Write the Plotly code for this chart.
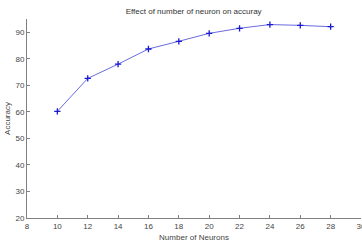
import plotly.graph_objects as go

neurons = [10, 12, 14, 16, 18, 20, 22, 24, 26, 28]
accuracy = [60.2, 72.6, 78.0, 83.7, 86.6, 89.6, 91.5, 92.9, 92.6, 92.1]
x_ticks = [8, 10, 12, 14, 16, 18, 20, 22, 24, 26, 28, 30]
y_ticks = [20, 30, 40, 50, 60, 70, 80, 90]

fig = go.Figure()
fig.add_trace(go.Scatter(
    x=neurons, y=accuracy, mode="lines+markers",
    line=dict(color="#6a6ae0", width=1),
    marker=dict(symbol="cross-thin", size=4.5, color="#1a1ad0",
                line=dict(color="#1a1ad0", width=1.3)),
    showlegend=False, cliponaxis=False,
))

axis_common = dict(
    showline=True, linecolor="#808080", linewidth=1,
    ticks="inside", ticklen=3, tickcolor="#808080",
    showgrid=False, zeroline=False, mirror=False,
    ticklabeloverflow="allow", automargin=False,
    tickfont=dict(family="Liberation Sans, Arial", size=8, color="#444444"),
)

fig.update_layout(
    width=362, height=250,
    margin=dict(l=27, r=1, t=19, b=32),
    paper_bgcolor="white", plot_bgcolor="white",
    title=dict(text="Effect of number of neuron on accuray", x=0.535, xanchor="center",
               y=0.955, yanchor="middle",
               font=dict(family="Liberation Sans, Arial", size=8, color="#333333")),
    xaxis=dict(range=[8, 30], tickvals=x_ticks, ticktext=[str(v) for v in x_ticks],
               title=dict(text="Number of Neurons", standoff=4,
                          font=dict(family="Liberation Sans, Arial", size=8, color="#444444")),
               **axis_common),
    yaxis=dict(range=[20, 95], tickvals=y_ticks,
               title=dict(text="Accuracy", standoff=3,
                          font=dict(family="Liberation Sans, Arial", size=8, color="#444444")),
               **axis_common),
)

fig.write_html("out.html")
